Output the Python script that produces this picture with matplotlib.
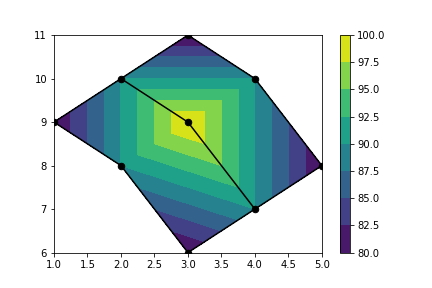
import numpy as np
import matplotlib
matplotlib.use("Agg")
import matplotlib.pyplot as plt
import matplotlib.tri as mtri

# sample points and values
x = np.array([1, 2, 3, 4, 5, 4, 3, 2, 3])
y = np.array([9, 10, 11, 10, 8, 7, 6, 8, 9])
z = np.array([80, 90, 80, 90, 80, 90, 80, 90, 100])

# triangles between the points (index triples)
triangles = [[0, 1, 7], [1, 8, 7], [1, 2, 3], [1, 3, 8],
             [8, 3, 5], [3, 4, 5], [8, 5, 7], [7, 5, 6]]

# point order for the drawn lines
outline = [0, 1, 2, 3, 4, 5, 6, 7, 0]
inner = [1, 8, 5]

levels = np.arange(80, 100.1, 2.5)

fig = plt.figure(figsize=(6, 4), dpi=72)
ax = fig.add_axes([0.125, 0.123, 0.620, 0.755])
cax = fig.add_axes([0.786, 0.123, 0.024, 0.755])

tri = mtri.Triangulation(x, y, triangles)
cs = ax.tricontourf(tri, z, levels=levels, cmap='viridis')
ax.plot(x[outline], y[outline], 'k-', lw=1.5)
ax.plot(x[inner], y[inner], 'k-', lw=1.5)
ax.plot(x, y, 'ko', ms=6.5)

ax.set_xlim(1, 5)
ax.set_ylim(6, 11)

cb = fig.colorbar(cs, cax=cax)
cb.set_ticks(levels)

fig.savefig('out.png', dpi=72)
